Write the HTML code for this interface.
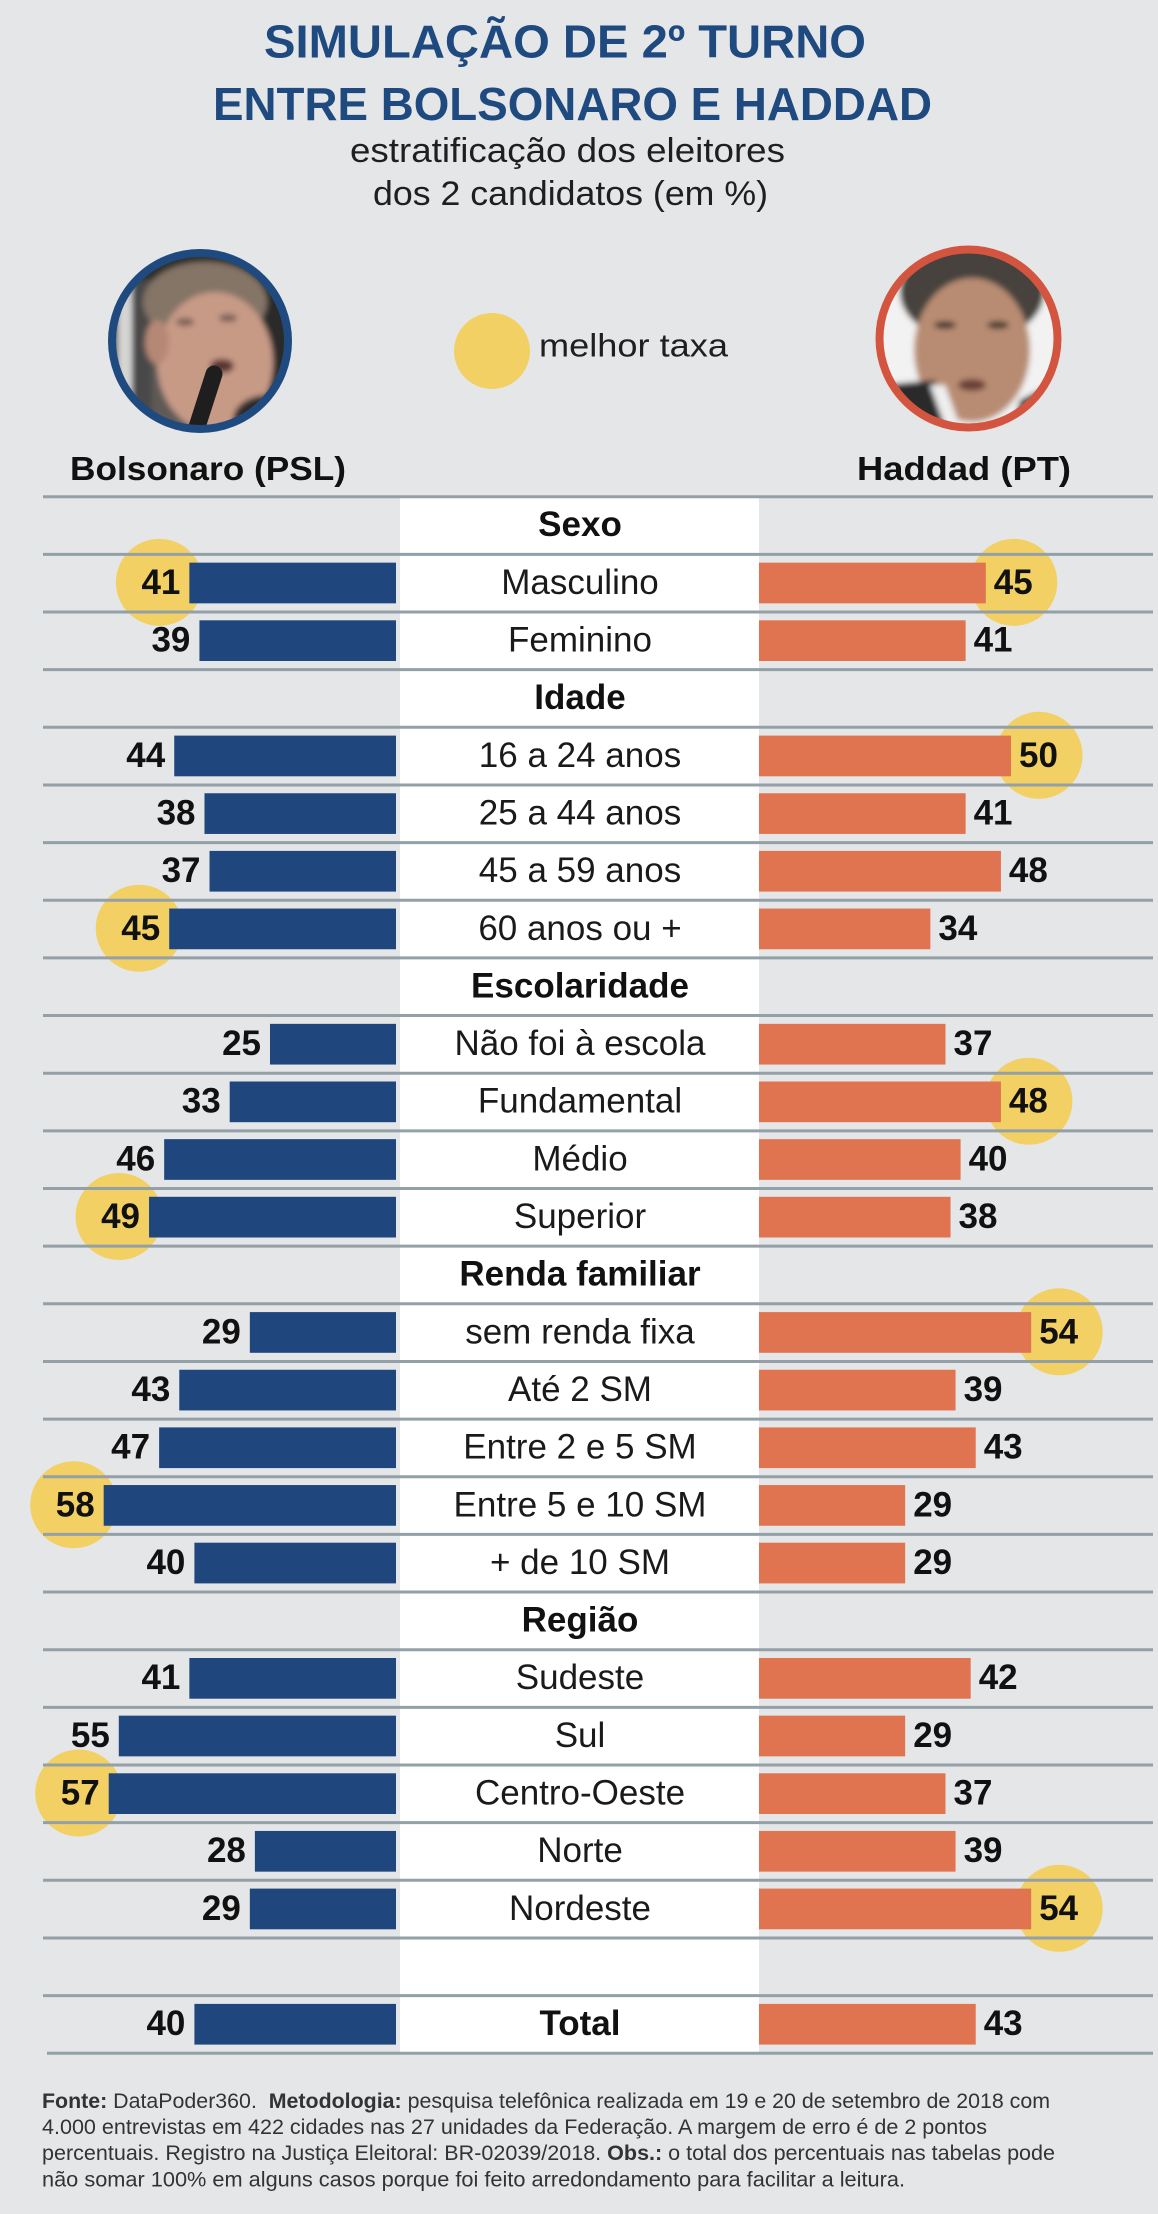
<!DOCTYPE html>
<html><head><meta charset="utf-8">
<style>
html,body{margin:0;padding:0;background:#e5e6e8;}
svg{display:block;}
text{font-family:"Liberation Sans",Arial,sans-serif;}
.lb{font-size:35px;fill:#1a1a1a;text-anchor:middle;}
.hd{font-size:35px;fill:#111;font-weight:bold;text-anchor:middle;}
.nb{font-size:35px;fill:#111;font-weight:bold;text-anchor:end;}
.no{font-size:35px;fill:#111;font-weight:bold;}
.fn{font-size:21px;fill:#333;}
</style></head>
<body>
<svg width="1158" height="2214" viewBox="0 0 1158 2214" xmlns="http://www.w3.org/2000/svg">
<defs>
<clipPath id="cb"><circle cx="200" cy="341" r="85"/></clipPath>
<clipPath id="ch"><circle cx="968.5" cy="338.5" r="86"/></clipPath>
<filter id="bl" x="-10%" y="-10%" width="120%" height="120%"><feGaussianBlur stdDeviation="3"/></filter>
</defs>
<rect width="1158" height="2214" fill="#e5e6e8"/>

<!-- Title -->
<text x="264" y="57.5" font-size="46" font-weight="bold" fill="#1f4a80" textLength="602" lengthAdjust="spacingAndGlyphs">SIMULAÇÃO DE 2º TURNO</text>
<text x="213" y="120" font-size="46" font-weight="bold" fill="#1f4a80" textLength="719" lengthAdjust="spacingAndGlyphs">ENTRE BOLSONARO E HADDAD</text>
<text x="350" y="162" font-size="34" fill="#1f1f1f" textLength="435" lengthAdjust="spacingAndGlyphs">estratificação dos eleitores</text>
<text x="373" y="205" font-size="34" fill="#1f1f1f" textLength="395" lengthAdjust="spacingAndGlyphs">dos 2 candidatos (em %)</text>

<!-- Bolsonaro photo -->
<g clip-path="url(#cb)">
 <g filter="url(#bl)">
  <rect x="110" y="250" width="180" height="185" fill="#5e5a56"/>
  <rect x="110" y="250" width="180" height="45" fill="#2e2d2b"/>
  <rect x="118" y="280" width="14" height="150" fill="#d6d6d4"/>
  <rect x="132" y="280" width="20" height="150" fill="#4a4a48"/>
  <rect x="262" y="250" width="30" height="185" fill="#2a2a2a"/>
  <ellipse cx="205" cy="302" rx="62" ry="40" fill="#857566"/>
  <ellipse cx="215" cy="362" rx="58" ry="70" fill="#c79a86"/>
  <ellipse cx="157" cy="342" rx="12" ry="22" fill="#b58874"/>
  <ellipse cx="185" cy="322" rx="9" ry="4" fill="#7a6058"/>
  <ellipse cx="228" cy="318" rx="9" ry="4" fill="#7a6058"/>
  <ellipse cx="222" cy="366" rx="12" ry="7" fill="#5a3530"/>
  <ellipse cx="268" cy="420" rx="35" ry="25" fill="#2a2a2a"/>
 </g>
 <line x1="196" y1="430" x2="214" y2="374" stroke="#1e1e1e" stroke-width="17" stroke-linecap="round"/>
</g>
<circle cx="200" cy="341" r="88" fill="none" stroke="#1f4a80" stroke-width="8"/>

<!-- Haddad photo -->
<g clip-path="url(#ch)">
 <g filter="url(#bl)">
  <rect x="875" y="245" width="190" height="190" fill="#f2f2f2"/>
  <ellipse cx="972" cy="292" rx="72" ry="50" fill="#46423e"/>
  <ellipse cx="972" cy="350" rx="58" ry="72" fill="#b88c72"/>
  <ellipse cx="945" cy="325" rx="11" ry="4" fill="#4a3a32"/>
  <ellipse cx="998" cy="325" rx="11" ry="4" fill="#4a3a32"/>
  <ellipse cx="972" cy="385" rx="14" ry="6" fill="#6a4038"/>
  <polygon points="880,385 935,380 960,440 875,440" fill="#2b2b2b"/>
  <polygon points="1020,400 1060,380 1065,440 1010,440" fill="#2b2b2b"/>
  <polygon points="930,385 945,385 965,440 950,440" fill="#eeeeee"/>
 </g>
</g>
<circle cx="968.5" cy="338.5" r="89" fill="none" stroke="#d4553f" stroke-width="8"/>

<!-- legend -->
<circle cx="492" cy="351" r="38" fill="#f2d064"/>
<text x="539" y="356.5" font-size="32" fill="#1f1f1f" textLength="189" lengthAdjust="spacingAndGlyphs">melhor taxa</text>

<text x="70" y="480" font-size="33" font-weight="bold" fill="#111" textLength="276" lengthAdjust="spacingAndGlyphs">Bolsonaro (PSL)</text>
<text x="857" y="480" font-size="33" font-weight="bold" fill="#111" textLength="214" lengthAdjust="spacingAndGlyphs">Haddad (PT)</text>

<!-- white column -->
<rect x="400" y="497" width="359" height="1556" fill="#ffffff"/>

<!-- yellow circles -->
<g fill="#f2d064">
 <circle cx="159.4" cy="582.35" r="43.5"/>
 <circle cx="139.2" cy="928.25" r="43.5"/>
 <circle cx="119" cy="1216.5" r="43.5"/>
 <circle cx="73.7" cy="1504.75" r="43.5"/>
 <circle cx="78.7" cy="1793" r="43.5"/>
 <circle cx="1013.8" cy="582.35" r="43.5"/>
 <circle cx="1039" cy="755.3" r="43.5"/>
 <circle cx="1028.9" cy="1101.2" r="43.5"/>
 <circle cx="1059.2" cy="1331.8" r="43.5"/>
 <circle cx="1059.2" cy="1908.3" r="43.5"/>
</g>

<!-- lines -->
<g stroke="#93a0a8" stroke-width="3">
 <line x1="43" x2="1153" y1="496.7" y2="496.7"/>
 <line x1="43" x2="1153" y1="554.35" y2="554.35"/>
 <line x1="43" x2="1153" y1="612" y2="612"/>
 <line x1="43" x2="1153" y1="669.65" y2="669.65"/>
 <line x1="43" x2="1153" y1="727.3" y2="727.3"/>
 <line x1="43" x2="1153" y1="784.95" y2="784.95"/>
 <line x1="43" x2="1153" y1="842.6" y2="842.6"/>
 <line x1="43" x2="1153" y1="900.25" y2="900.25"/>
 <line x1="43" x2="1153" y1="957.9" y2="957.9"/>
 <line x1="43" x2="1153" y1="1015.55" y2="1015.55"/>
 <line x1="43" x2="1153" y1="1073.2" y2="1073.2"/>
 <line x1="43" x2="1153" y1="1130.85" y2="1130.85"/>
 <line x1="43" x2="1153" y1="1188.5" y2="1188.5"/>
 <line x1="43" x2="1153" y1="1246.15" y2="1246.15"/>
 <line x1="43" x2="1153" y1="1303.8" y2="1303.8"/>
 <line x1="43" x2="1153" y1="1361.45" y2="1361.45"/>
 <line x1="43" x2="1153" y1="1419.1" y2="1419.1"/>
 <line x1="43" x2="1153" y1="1476.75" y2="1476.75"/>
 <line x1="43" x2="1153" y1="1534.4" y2="1534.4"/>
 <line x1="43" x2="1153" y1="1592.05" y2="1592.05"/>
 <line x1="43" x2="1153" y1="1649.7" y2="1649.7"/>
 <line x1="43" x2="1153" y1="1707.35" y2="1707.35"/>
 <line x1="43" x2="1153" y1="1765" y2="1765"/>
 <line x1="43" x2="1153" y1="1822.65" y2="1822.65"/>
 <line x1="43" x2="1153" y1="1880.3" y2="1880.3"/>
 <line x1="43" x2="1153" y1="1937.95" y2="1937.95"/>
 <line x1="43" x2="1153" y1="1995.6" y2="1995.6"/>
 <line x1="47" x2="1153" y1="2053.25" y2="2053.25"/>
</g>

<!-- blue bars -->
<g fill="#1f477d">
 <rect x="189.36" y="562.65" width="206.64" height="40.7"/>
 <rect x="199.44" y="620.3" width="196.56" height="40.7"/>
 <rect x="174.24" y="735.6" width="221.76" height="40.7"/>
 <rect x="204.48" y="793.25" width="191.52" height="40.7"/>
 <rect x="209.52" y="850.9" width="186.48" height="40.7"/>
 <rect x="169.2" y="908.55" width="226.8" height="40.7"/>
 <rect x="270" y="1023.85" width="126" height="40.7"/>
 <rect x="229.68" y="1081.5" width="166.32" height="40.7"/>
 <rect x="164.16" y="1139.15" width="231.84" height="40.7"/>
 <rect x="149.04" y="1196.8" width="246.96" height="40.7"/>
 <rect x="249.84" y="1312.1" width="146.16" height="40.7"/>
 <rect x="179.28" y="1369.75" width="216.72" height="40.7"/>
 <rect x="159.12" y="1427.4" width="236.88" height="40.7"/>
 <rect x="103.68" y="1485.05" width="292.32" height="40.7"/>
 <rect x="194.4" y="1542.7" width="201.6" height="40.7"/>
 <rect x="189.36" y="1658" width="206.64" height="40.7"/>
 <rect x="118.8" y="1715.65" width="277.2" height="40.7"/>
 <rect x="108.72" y="1773.3" width="287.28" height="40.7"/>
 <rect x="254.88" y="1830.95" width="141.12" height="40.7"/>
 <rect x="249.84" y="1888.6" width="146.16" height="40.7"/>
 <rect x="194.4" y="2003.9" width="201.6" height="40.7"/>
</g>

<!-- orange bars -->
<g fill="#e07450">
 <rect x="759" y="562.65" width="226.8" height="40.7"/>
 <rect x="759" y="620.3" width="206.64" height="40.7"/>
 <rect x="759" y="735.6" width="252" height="40.7"/>
 <rect x="759" y="793.25" width="206.64" height="40.7"/>
 <rect x="759" y="850.9" width="241.92" height="40.7"/>
 <rect x="759" y="908.55" width="171.36" height="40.7"/>
 <rect x="759" y="1023.85" width="186.48" height="40.7"/>
 <rect x="759" y="1081.5" width="241.92" height="40.7"/>
 <rect x="759" y="1139.15" width="201.6" height="40.7"/>
 <rect x="759" y="1196.8" width="191.52" height="40.7"/>
 <rect x="759" y="1312.1" width="272.16" height="40.7"/>
 <rect x="759" y="1369.75" width="196.56" height="40.7"/>
 <rect x="759" y="1427.4" width="216.72" height="40.7"/>
 <rect x="759" y="1485.05" width="146.16" height="40.7"/>
 <rect x="759" y="1542.7" width="146.16" height="40.7"/>
 <rect x="759" y="1658" width="211.68" height="40.7"/>
 <rect x="759" y="1715.65" width="146.16" height="40.7"/>
 <rect x="759" y="1773.3" width="186.48" height="40.7"/>
 <rect x="759" y="1830.95" width="196.56" height="40.7"/>
 <rect x="759" y="1888.6" width="272.16" height="40.7"/>
 <rect x="759" y="2003.9" width="216.72" height="40.7"/>
</g>

<!-- center labels -->
<text class="hd" x="580" y="536.2">Sexo</text>
<text class="lb" x="580" y="593.85">Masculino</text>
<text class="lb" x="580" y="651.5">Feminino</text>
<text class="hd" x="580" y="709.15">Idade</text>
<text class="lb" x="580" y="766.8">16 a 24 anos</text>
<text class="lb" x="580" y="824.45">25 a 44 anos</text>
<text class="lb" x="580" y="882.1">45 a 59 anos</text>
<text class="lb" x="580" y="939.75">60 anos ou +</text>
<text class="hd" x="580" y="997.4">Escolaridade</text>
<text class="lb" x="580" y="1055.05">Não foi à escola</text>
<text class="lb" x="580" y="1112.7">Fundamental</text>
<text class="lb" x="580" y="1170.35">Médio</text>
<text class="lb" x="580" y="1228">Superior</text>
<text class="hd" x="580" y="1285.65">Renda familiar</text>
<text class="lb" x="580" y="1343.3">sem renda fixa</text>
<text class="lb" x="580" y="1400.95">Até 2 SM</text>
<text class="lb" x="580" y="1458.6">Entre 2 e 5 SM</text>
<text class="lb" x="580" y="1516.25">Entre 5 e 10 SM</text>
<text class="lb" x="580" y="1573.9">+ de 10 SM</text>
<text class="hd" x="580" y="1631.55">Região</text>
<text class="lb" x="580" y="1689.2">Sudeste</text>
<text class="lb" x="580" y="1746.85">Sul</text>
<text class="lb" x="580" y="1804.5">Centro-Oeste</text>
<text class="lb" x="580" y="1862.15">Norte</text>
<text class="lb" x="580" y="1919.8">Nordeste</text>
<text class="hd" x="580" y="2035.1">Total</text>

<!-- blue numbers -->
<text class="nb" x="180.4" y="593.85">41</text>
<text class="nb" x="190.4" y="651.5">39</text>
<text class="nb" x="165.2" y="766.8">44</text>
<text class="nb" x="195.5" y="824.45">38</text>
<text class="nb" x="200.5" y="882.1">37</text>
<text class="nb" x="160.2" y="939.75">45</text>
<text class="nb" x="261" y="1055.05">25</text>
<text class="nb" x="220.7" y="1112.7">33</text>
<text class="nb" x="155.2" y="1170.35">46</text>
<text class="nb" x="140" y="1228">49</text>
<text class="nb" x="240.8" y="1343.3">29</text>
<text class="nb" x="170.3" y="1400.95">43</text>
<text class="nb" x="150.1" y="1458.6">47</text>
<text class="nb" x="94.7" y="1516.25">58</text>
<text class="nb" x="185.4" y="1573.9">40</text>
<text class="nb" x="180.4" y="1689.2">41</text>
<text class="nb" x="109.8" y="1746.85">55</text>
<text class="nb" x="99.7" y="1804.5">57</text>
<text class="nb" x="245.9" y="1862.15">28</text>
<text class="nb" x="240.8" y="1919.8">29</text>
<text class="nb" x="185.4" y="2035.1">40</text>

<!-- orange numbers -->
<text class="no" x="993.8" y="593.85">45</text>
<text class="no" x="973.6" y="651.5">41</text>
<text class="no" x="1019" y="766.8">50</text>
<text class="no" x="973.6" y="824.45">41</text>
<text class="no" x="1008.9" y="882.1">48</text>
<text class="no" x="938.4" y="939.75">34</text>
<text class="no" x="953.5" y="1055.05">37</text>
<text class="no" x="1008.9" y="1112.7">48</text>
<text class="no" x="968.6" y="1170.35">40</text>
<text class="no" x="958.5" y="1228">38</text>
<text class="no" x="1039.2" y="1343.3">54</text>
<text class="no" x="963.6" y="1400.95">39</text>
<text class="no" x="983.7" y="1458.6">43</text>
<text class="no" x="913.2" y="1516.25">29</text>
<text class="no" x="913.2" y="1573.9">29</text>
<text class="no" x="978.7" y="1689.2">42</text>
<text class="no" x="913.2" y="1746.85">29</text>
<text class="no" x="953.5" y="1804.5">37</text>
<text class="no" x="963.6" y="1862.15">39</text>
<text class="no" x="1039.2" y="1919.8">54</text>
<text class="no" x="983.7" y="2035.1">43</text>

<!-- footnote -->
<text class="fn" x="42" y="2108" textLength="1008" lengthAdjust="spacingAndGlyphs"><tspan font-weight="bold">Fonte:</tspan> DataPoder360.&#160; <tspan font-weight="bold">Metodologia:</tspan> pesquisa telefônica realizada em 19 e 20 de setembro de 2018 com</text>
<text class="fn" x="42" y="2134" textLength="945" lengthAdjust="spacingAndGlyphs">4.000 entrevistas em 422 cidades nas 27 unidades da Federação. A margem de erro é de 2 pontos</text>
<text class="fn" x="42" y="2160" textLength="1013" lengthAdjust="spacingAndGlyphs">percentuais. Registro na Justiça Eleitoral: BR-02039/2018. <tspan font-weight="bold">Obs.:</tspan> o total dos percentuais nas tabelas pode</text>
<text class="fn" x="42" y="2186.5" textLength="863" lengthAdjust="spacingAndGlyphs">não somar 100% em alguns casos porque foi feito arredondamento para facilitar a leitura.</text>
</svg>
</body></html>
